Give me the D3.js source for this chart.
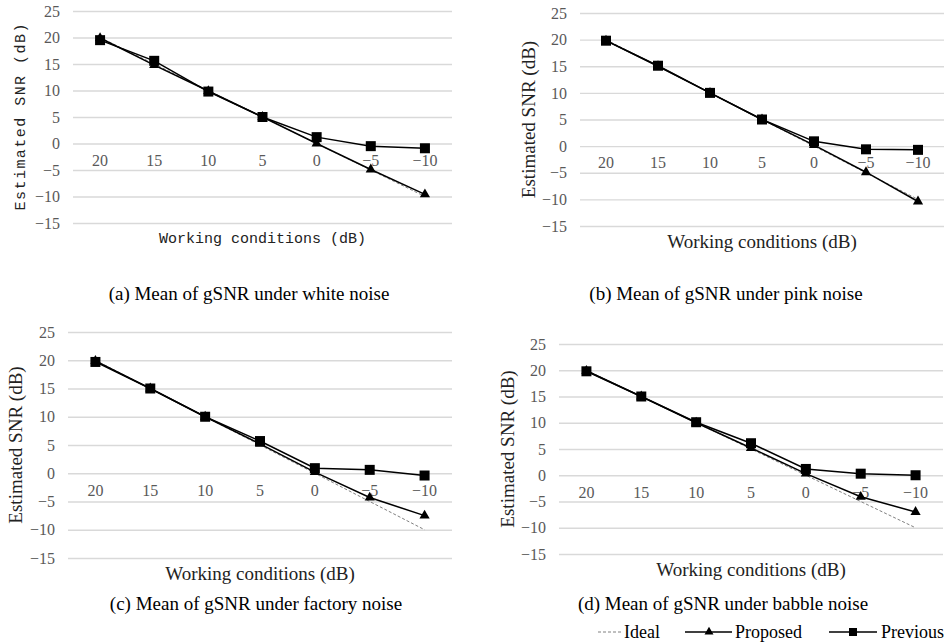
<!DOCTYPE html>
<html><head><meta charset="utf-8">
<script src="https://cdn.jsdelivr.net/npm/d3@7"></script>
<style>body{margin:0;background:#fff}svg{display:block}</style>
</head><body>
<svg id="c" width="946" height="643"></svg>
<script>
const categories = ["20","15","10","5","0","−5","−10"];
const yTicks = [25,20,15,10,5,0,-5,-10,-15];
const ideal = [20,15,10,5,0,-5,-10];
const proposedA = [19.9,14.8,9.9,5.0,0.0,-4.9,-9.6];
const previousA = [19.5,15.6,9.8,5.0,1.2,-0.5,-0.9];
const proposedB = [19.8,15.0,10.0,5.0,0.2,-4.9,-10.4];
const previousB = [19.8,15.1,10.0,5.0,0.9,-0.6,-0.7];
const proposedC = [19.9,15.0,10.0,5.2,0.2,-4.3,-7.5];
const previousC = [19.7,15.0,10.0,5.7,0.9,0.6,-0.4];
const proposedD = [19.9,15.0,10.0,5.2,0.3,-4.1,-7.0];
const previousD = [19.8,15.0,10.1,6.1,1.2,0.3,0.0];
const captions = ["(a) Mean of gSNR under white noise","(b) Mean of gSNR under pink noise",
                  "(c) Mean of gSNR under factory noise","(d) Mean of gSNR under babble noise"];
const seriesNames = ["Ideal","Proposed","Previous"];

const panels = [
  {x0:73, x1:452, yT:11, yB:223, tX:20, mono:true, prop:proposedA, prev:previousA, cap:captions[0], capX:249, capY:293},
  {x0:580, x1:944, yT:13, yB:226, tX:528, mono:false, prop:proposedB, prev:previousB, cap:captions[1], capX:726, capY:293},
  {x0:68, x1:452, yT:332, yB:558, tX:15, mono:false, prop:proposedC, prev:previousC, cap:captions[2], capX:256, capY:603},
  {x0:559, x1:943, yT:344, yB:554, tX:507, mono:false, prop:proposedD, prev:previousD, cap:captions[3], capX:723, capY:603}
];
const svg = d3.select("#c");
const serif = "Liberation Serif";
const mono = "Liberation Mono";
const tri = d3.symbol().type(d3.symbolTriangle).size(45);

panels.forEach(p => {
  const g = svg.append("g");
  const x = d3.scaleBand().domain(categories).range([p.x0, p.x1]).padding(0);
  const y = d3.scaleLinear().domain([-15,25]).range([p.yB, p.yT]);
  const cx = (d,i) => x(categories[i]) + x.bandwidth()/2;

  const ya = g.append("g").attr("transform",`translate(${p.x0},0)`)
    .call(d3.axisLeft(y).tickValues(yTicks).tickSize(-(p.x1-p.x0)).tickPadding(13)
      .tickFormat(d => d < 0 ? "−" + Math.abs(d) : d));
  ya.attr("font-family",serif).attr("font-size",16);
  ya.select(".domain").remove();
  ya.selectAll(".tick line").attr("stroke","#d9d9d9").attr("stroke-width",1.3);
  ya.selectAll(".tick text").attr("fill","#595959");

  const xa = g.append("g").attr("transform",`translate(0,${y(0)})`)
    .call(d3.axisBottom(x).tickSize(0).tickPadding(11));
  xa.attr("font-family",serif).attr("font-size",16);
  xa.select(".domain").remove();
  xa.selectAll(".tick text").attr("fill","#595959");

  // titles
  g.append("text").attr("x",(p.x0+p.x1)/2).attr("y",p.yB+15).attr("dy","0.35em")
    .attr("text-anchor","middle").attr("font-family",p.mono?mono:serif)
    .attr("font-size",p.mono?15:19).attr("fill","#222").text("Working conditions (dB)");
  const ty = g.append("text").attr("transform",`translate(${p.tX},${(p.yT+p.yB)/2}) rotate(-90)`)
    .attr("dy","0.35em").attr("text-anchor","middle").attr("font-family",p.mono?mono:serif)
    .attr("font-size",p.mono?15:19).attr("fill","#222").text("Estimated SNR (dB)");
  if (p.mono) ty.attr("textLength",187).attr("lengthAdjust","spacing");

  const line = d3.line().x(cx).y(d => y(d));
  g.append("path").datum(ideal).attr("d",line).attr("fill","none")
    .attr("stroke","#808080").attr("stroke-width",1).attr("stroke-dasharray","3,2");
  g.append("path").datum(p.prop).attr("d",line).attr("fill","none").attr("stroke","#000").attr("stroke-width",1.5);
  g.selectAll(".tri").data(p.prop).enter().append("path")
    .attr("d",tri).attr("transform",(d,i)=>`translate(${cx(d,i)},${y(d)})`).attr("fill","#000");
  g.append("path").datum(p.prev).attr("d",line).attr("fill","none").attr("stroke","#000").attr("stroke-width",1.5);
  g.selectAll(".sq").data(p.prev).enter().append("rect")
    .attr("x",(d,i)=>cx(d,i)-5).attr("y",d=>y(d)-5).attr("width",10).attr("height",10).attr("fill","#000");

  svg.append("text").attr("x",p.capX).attr("y",p.capY).attr("dy","0.35em").attr("text-anchor","middle")
    .attr("font-family",serif).attr("font-size",19).attr("fill","#000").text(p.cap);
});

// legend
const lg = svg.append("g").attr("font-family",serif).attr("font-size",18);
const ly = 632;
lg.append("line").attr("x1",598).attr("x2",622).attr("y1",ly).attr("y2",ly)
  .attr("stroke","#808080").attr("stroke-width",1).attr("stroke-dasharray","3,2");
lg.append("text").attr("x",624).attr("y",ly).attr("dy","0.35em").text(seriesNames[0]);
lg.append("line").attr("x1",685).attr("x2",732).attr("y1",ly).attr("y2",ly).attr("stroke","#000").attr("stroke-width",1.5);
lg.append("path").attr("d",d3.symbol().type(d3.symbolTriangle).size(35)).attr("transform",`translate(709,${ly})`);
lg.append("text").attr("x",735).attr("y",ly).attr("dy","0.35em").text(seriesNames[1]);
lg.append("line").attr("x1",829).attr("x2",877).attr("y1",ly).attr("y2",ly).attr("stroke","#000").attr("stroke-width",1.5);
lg.append("rect").attr("x",849).attr("y",ly-4).attr("width",8).attr("height",8);
lg.append("text").attr("x",881).attr("y",ly).attr("dy","0.35em").text(seriesNames[2]);
</script>
</body></html>
